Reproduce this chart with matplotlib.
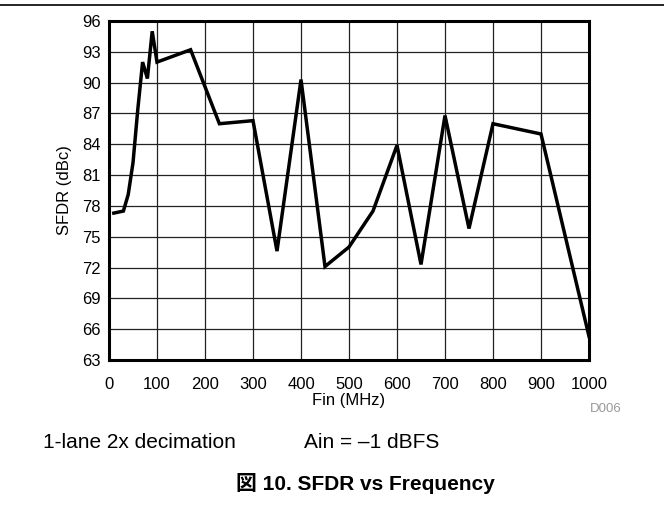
import matplotlib
matplotlib.use("Agg")
import matplotlib.pyplot as plt
from matplotlib.lines import Line2D

plt.rcParams['font.family'] = ['Liberation Sans', 'Noto Sans CJK JP', 'DejaVu Sans']

# SFDR curve
fin_mhz = [10, 30, 40, 50, 60, 70, 80, 90, 100, 170, 230, 300, 350, 400,
           450, 500, 550, 600, 650, 700, 750, 800, 900, 1000]
sfdr_dbc = [77.3, 77.5, 79.1, 82.2, 87.4, 92.0, 90.4, 95.0, 92.0, 93.2, 86.0, 86.3,
            73.6, 90.3, 72.1, 74.0, 77.5, 83.9, 72.3, 86.8, 75.8, 86.0, 85.0, 65.3]

x_ticks = list(range(0, 1001, 100))
y_ticks = list(range(63, 97, 3))

fig = plt.figure(figsize=(6.64, 5.26), dpi=100)
ax = fig.add_axes([109 / 664, 1 - 360 / 526, 480 / 664, 339 / 526])

ax.plot(fin_mhz, sfdr_dbc, color='black', linewidth=2.5, solid_joinstyle='miter')

ax.set_xlim(0, 1000)
ax.set_ylim(63, 96)
ax.set_xticks(x_ticks)
ax.set_yticks(y_ticks)
ax.tick_params(length=0, labelsize=12)
ax.tick_params(axis='y', pad=6)
ax.tick_params(axis='x', pad=12)
ax.grid(True, color='#222222', linewidth=0.9)
for s in ax.spines.values():
    s.set_linewidth(2.2)
    s.set_color('black')

ax.set_xlabel('Fin (MHz)', fontsize=12, labelpad=1)
ax.set_ylabel('SFDR (dBc)', fontsize=12, labelpad=7)

# separator line at the top of the page
fig.add_artist(Line2D([0, 1], [1 - 5 / 526, 1 - 5 / 526], color='black', linewidth=1.2))

fig.text(622 / 664, 1 - 409 / 526, 'D006', fontsize=9.5, color='#999999', ha='right', va='center')
fig.text(43 / 664, 1 - 442 / 526, '1-lane 2x decimation', fontsize=15, ha='left', va='center')
fig.text(304 / 664, 1 - 442 / 526, 'Ain = \u20131 dBFS', fontsize=15, ha='left', va='center')
fig.text(365 / 664, 1 - 483 / 526, '図 10. SFDR vs Frequency', fontsize=15, fontweight='bold',
         ha='center', va='center')

fig.savefig('out.png', dpi=100)
